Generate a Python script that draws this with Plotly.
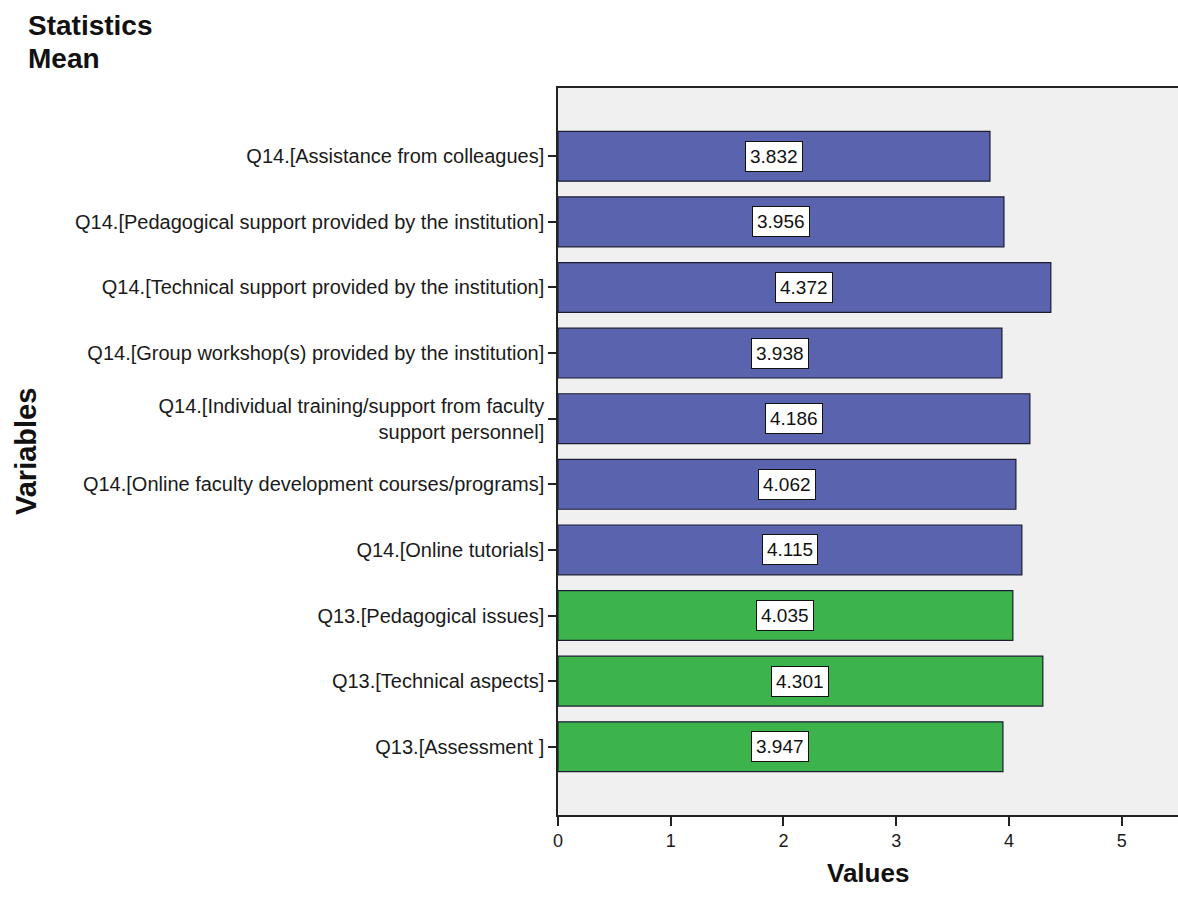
import plotly.graph_objects as go

# Survey items, top to bottom
variables = [
    "Q14.[Assistance from colleagues]",
    "Q14.[Pedagogical support provided by the institution]",
    "Q14.[Technical support provided by the institution]",
    "Q14.[Group workshop(s) provided by the institution]",
    "Q14.[Individual training/support from faculty<br>support personnel]",
    "Q14.[Online faculty development courses/programs]",
    "Q14.[Online tutorials]",
    "Q13.[Pedagogical issues]",
    "Q13.[Technical aspects]",
    "Q13.[Assessment ]",
]
means = [3.832, 3.956, 4.372, 3.938, 4.186, 4.062, 4.115, 4.035, 4.301, 3.947]
groups = ["Q14"] * 7 + ["Q13"] * 3

x_ticks = [0, 1, 2, 3, 4, 5]

group_colors = {"Q14": "#5a63ad", "Q13": "#3cb44b"}
FONT = "Liberation Sans, Arial, sans-serif"

W, H = 1178, 899
left, right, top, bottom = 558, 0, 88, 84
plot_w = W - left - right
plot_h = H - top - bottom

positions = list(range(len(variables)))

fig = go.Figure()
fig.add_trace(go.Bar(
    x=means,
    y=positions,
    orientation="h",
    width=0.76,
    marker=dict(color=[group_colors[g] for g in groups],
                line=dict(color="#1c1c30", width=1.2)),
    hoverinfo="x+y",
    showlegend=False,
))

# value boxes centred on each bar
for pos, v in zip(positions, means):
    fig.add_annotation(
        x=v / 2, y=pos, xref="x", yref="y",
        text=f"{v:.3f}", showarrow=False,
        font=dict(family=FONT, size=19, color="#111"),
        bgcolor="white", bordercolor="#111", borderwidth=1, borderpad=4,
    )

def px_to_paper_x(px):
    return (px - left) / plot_w

def px_to_paper_y(py):
    return 1 - (py - top) / plot_h

# chart heading, two lines
for text, middle in (("Statistics", 25), ("Mean", 58)):
    fig.add_annotation(
        x=px_to_paper_x(26), y=px_to_paper_y(middle), xref="paper", yref="paper",
        xanchor="left", yanchor="middle", align="left", showarrow=False,
        text=f"<b>{text}</b>",
        font=dict(family=FONT, size=28, color="#111"),
    )

# axis titles
fig.add_annotation(
    x=px_to_paper_x(26), y=px_to_paper_y(452), xref="paper", yref="paper",
    xanchor="center", yanchor="middle", textangle=-90, showarrow=False,
    text="<b>Variables</b>",
    font=dict(family=FONT, size=29, color="#111"),
)
fig.add_annotation(
    x=px_to_paper_x(868), y=px_to_paper_y(873), xref="paper", yref="paper",
    xanchor="center", yanchor="middle", showarrow=False,
    text="<b>Values</b>",
    font=dict(family=FONT, size=26, color="#111"),
)

fig.update_layout(
    width=W, height=H,
    margin=dict(l=left, r=right, t=top, b=bottom, pad=0),
    paper_bgcolor="white",
    plot_bgcolor="#f0f0f0",
    font=dict(family=FONT, size=20, color="#1a1a1a"),
)

fig.update_xaxes(
    range=[0, 5.5],
    tickvals=x_ticks,
    ticktext=[str(t) for t in x_ticks],
    showgrid=False, zeroline=False,
    showline=True, linecolor="#222", linewidth=1.5, mirror=True,
    ticks="outside", ticklen=9, tickcolor="#222", tickwidth=1.5,
    tickfont=dict(size=18, color="#1a1a1a"),
)

fig.update_yaxes(
    range=[len(variables) - 1 + 1.04, -1.04],
    tickvals=positions,
    ticktext=variables,
    showgrid=False, zeroline=False,
    showline=True, linecolor="#222", linewidth=1.5,
    ticks="outside", ticklen=8, tickcolor="#222", tickwidth=1.5,
    tickfont=dict(size=20, color="#1a1a1a"),
)

fig.write_html("out.html")
